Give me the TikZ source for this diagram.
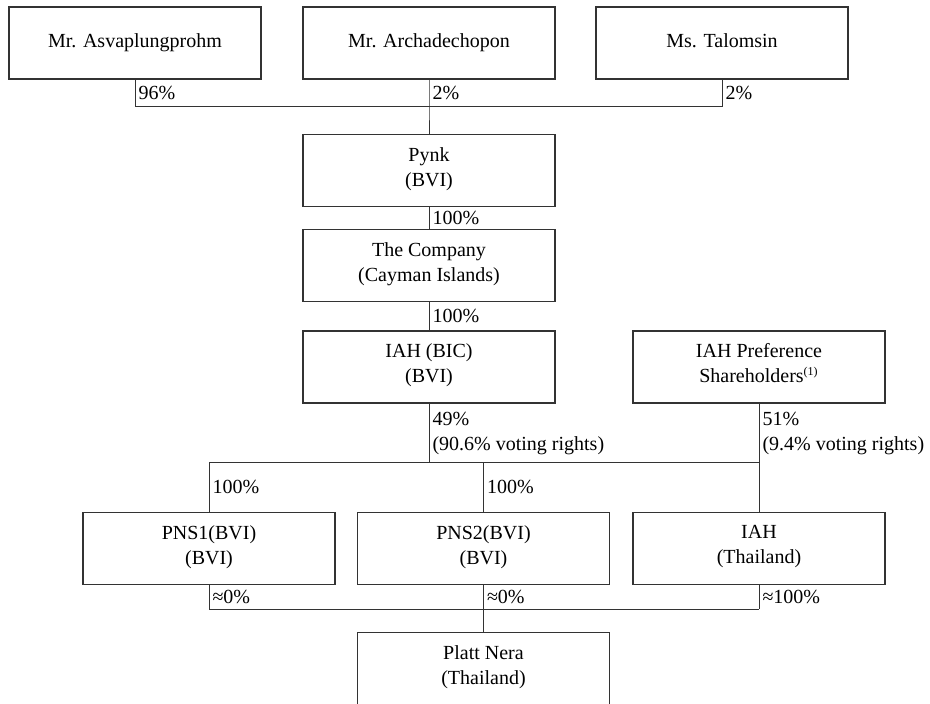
\documentclass[tikz,border=0pt]{standalone}
\usepackage{fontspec}
\setmainfont{Liberation Serif}
\usepackage{tikz}

\tikzset{
    box/.style={draw=black!80, line width=0.6pt, minimum width=126pt, minimum height=36pt,
        align=center, inner sep=2pt, font=\fontsize{10}{12.5}\selectfont,
        execute at begin node=\strut, execute at end node=\strut},
    pct/.style={align=left, inner sep=1.5pt, font=\fontsize{10}{12.5}\selectfont},
    link/.style={draw=black!80, line width=0.5pt}
}

\begin{document}
\begin{tikzpicture}[x=0.5pt, y=-0.5pt]
    \useasboundingbox (0,0) rectangle (930,704);

    % Owners
    \node[box] (asva) at (135, 43) {Mr. Asvaplungprohm};
    \node[box] (arch) at (429, 43) {Mr. Archadechopon};
    \node[box] (talo) at (722, 43) {Ms. Talomsin};

    % Holding chain
    \node[box] (pynk) at (429, 170.5) {Pynk\\(BVI)};
    \node[box] (comp) at (429, 265.5) {The Company\\(Cayman Islands)};
    \node[box] (iahbic) at (429, 367) {IAH (BIC)\\(BVI)};
    \node[box] (pref) at (759, 367) {IAH Preference\\Shareholders\textsuperscript{\fontsize{6}{6}\selectfont(1)}};

    % Subsidiaries
    \node[box] (pns1) at (209, 548.5) {PNS1(BVI)\\(BVI)};
    \node[box] (pns2) at (483.5, 548.5) {PNS2(BVI)\\(BVI)};
    \node[box] (iahth) at (759, 548.5) {IAH\\(Thailand)};
    \node[box] (platt) at (483.5, 668.5) {Platt Nera\\(Thailand)};

    % Bus lines
    \coordinate (topbus) at (429, 107);
    \coordinate (midbus) at (429, 463);
    \coordinate (lowbus) at (483.5, 609);

    % Owners to Pynk
    \draw[link] (asva.south) -- node[pct, right] {96\%} (asva.south |- topbus) -- (talo.south |- topbus);
    \draw[link] (arch.south) -- node[pct, right] {2\%} (arch.south |- topbus) -- (pynk.north);
    \draw[link] (talo.south) -- node[pct, right] {2\%} (talo.south |- topbus);

    % Chain
    \draw[link] (pynk.south) -- node[pct, right] {100\%} (comp.north);
    \draw[link] (comp.south) -- node[pct, right] {100\%} (iahbic.north);

    % IAH (BIC) and preference holders
    \draw[link] (iahbic.south) -- node[pct, right] {49\%\\(90.6\% voting rights)} (midbus);
    \draw[link] (pref.south) -- node[pct, right] {51\%\\(9.4\% voting rights)} (pref.south |- midbus) -- (iahth.north);
    \draw[link] (pns1.north |- midbus) -- (pref.south |- midbus);
    \draw[link] (pns1.north |- midbus) -- node[pct, right] {100\%} (pns1.north);
    \draw[link] (pns2.north |- midbus) -- node[pct, right] {100\%} (pns2.north);

    % Into Platt Nera
    \draw[link] (pns1.south) -- node[pct, right] {≈0\%} (pns1.south |- lowbus) -- (iahth.south |- lowbus);
    \draw[link] (pns2.south) -- node[pct, right] {≈0\%} (lowbus) -- (platt.north);
    \draw[link] (iahth.south) -- node[pct, right] {≈100\%} (iahth.south |- lowbus);
\end{tikzpicture}
\end{document}
